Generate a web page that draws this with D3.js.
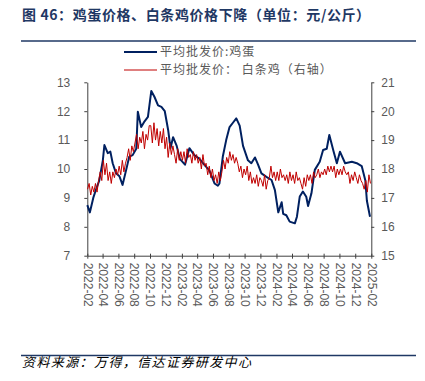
<!DOCTYPE html>
<html>
<head>
<meta charset="utf-8">
<script src="https://cdn.jsdelivr.net/npm/d3@7"></script>
<style>
  body { margin: 0; background: #fff; }
  svg { display: block; }
  .axis text { font-family: "Liberation Sans", Arial, sans-serif; font-size: 12px; fill: #595959; }
  .axis path, .axis line { stroke: #404040; }
</style>
</head>
<body>
<svg width="425" height="381"></svg>
<script>
// egg: average wholesale price, yuan/kg (left axis)
var eggDates = ["2022-02-01","2022-02-11","2022-02-24","2022-03-07","2022-03-19","2022-04-02","2022-04-08","2022-04-21","2022-05-01","2022-05-10",
  "2022-05-23","2022-06-05","2022-06-17","2022-07-01","2022-07-13","2022-07-26","2022-08-09","2022-08-15","2022-08-28","2022-09-10",
  "2022-09-23","2022-10-06","2022-10-18","2022-11-01","2022-11-14","2022-11-27","2022-12-10","2022-12-19","2022-12-29","2023-01-12",
  "2023-01-24","2023-02-13","2023-03-02","2023-03-21","2023-04-10","2023-04-29","2023-05-18","2023-06-07","2023-06-20","2023-06-26",
  "2023-07-09","2023-07-22","2023-08-04","2023-08-17","2023-08-30","2023-09-12","2023-09-25","2023-10-14","2023-10-27","2023-11-10",
  "2023-11-22","2023-12-05","2023-12-24","2024-01-13","2024-01-26","2024-02-08","2024-02-21","2024-02-27","2024-03-10","2024-03-23",
  "2024-04-12","2024-04-20","2024-05-01","2024-05-13","2024-05-26","2024-06-02","2024-06-15","2024-06-28","2024-07-17","2024-07-30",
  "2024-08-13","2024-08-23","2024-09-08","2024-09-21","2024-10-03","2024-10-23","2024-11-18","2024-12-07","2024-12-26","2025-01-09",
  "2025-01-15","2025-01-27"];
var eggValues = [8.75,8.5,9.0,9.3,9.6,10.3,10.83,10.55,10.6,10.2,
  9.85,9.75,9.45,9.97,10.43,10.48,10.7,11.98,11.45,11.65,
  11.8,12.7,12.5,12.2,12.15,12.0,11.35,10.72,11.1,10.8,
  10.35,10.15,10.72,10.48,10.35,10.14,9.95,9.5,9.42,9.5,
  10.43,11.0,11.45,11.6,11.75,11.5,10.8,10.3,10.2,10.4,
  10.15,9.85,9.73,9.62,9.27,8.5,8.85,8.45,8.4,8.18,
  8.12,8.35,9.05,9.22,9.04,8.72,9.16,9.97,10.25,10.66,
  10.7,11.18,10.62,10.2,10.6,10.2,10.25,10.2,10.1,9.6,
  8.9,8.35];

// white-strip chicken: average wholesale price (right axis), one reading every ~6 days
var chickenStart = "2022-02-02";
var chickenStepDays = 6.1;
var chickenValues = [
  17.3,17.5,17.1,17.4,17.2,  17.5,17.2,17.6,17.9,17.6,  18.3,17.8,18.2,17.6,17.9,
  17.5,17.9,17.7,18.0,17.8,  18.1,17.8,18.3,17.9,18.2,  18.4,18.7,18.3,18.8,18.6,
  18.9,19.2,18.7,19.1,18.9,  19.3,18.7,19.2,19.0,19.5,  19.5,18.9,19.6,19.0,19.4,
  18.8,19.3,18.9,19.4,18.7,  19.1,18.4,18.9,18.5,18.8,  18.5,18.2,18.7,18.3,18.6,
  18.3,18.6,18.2,18.7,18.4,  18.5,18.2,18.6,18.3,18.5,  18.2,18.4,18.0,18.5,18.1,
  18.2,17.8,18.1,17.7,18.0,  17.6,17.8,17.5,17.9,17.6,  17.9,18.3,18.0,18.4,18.2,
  18.6,18.3,18.5,18.2,18.4,  18.2,17.9,18.1,17.7,18.0,  17.8,18.1,17.6,17.9,17.5,
  17.7,17.5,17.8,17.4,17.7,  17.6,17.4,17.8,17.3,17.6,  17.7,18.1,17.7,17.9,17.6,
  17.9,17.6,18.0,17.7,17.8,  17.6,17.8,17.5,17.9,17.6,  17.8,17.5,17.9,17.6,17.7,
  17.5,17.3,17.7,17.4,17.8,  17.6,17.8,17.5,17.9,17.7,  17.8,18.0,17.7,17.9,17.8,
  18.0,17.8,18.1,17.9,18.1,  17.9,18.1,17.7,18.0,17.8,  18.0,17.8,18.1,17.9,17.8,
  17.9,17.5,17.8,17.6,17.9,  17.7,17.5,17.8,17.6,17.5,  17.3,17.6,17.2,17.8,17.5];

var xTickLabels = ["2022-02","2022-04","2022-06","2022-08","2022-10","2022-12","2023-02","2023-04","2023-06",
  "2023-08","2023-10","2023-12","2024-02","2024-04","2024-06","2024-08","2024-10","2024-12","2025-02"];
var leftTicks = [7, 8, 9, 10, 11, 12, 13];
var rightTicks = [15, 16, 17, 18, 19, 20, 21];
var legendNames = ["平均批发价:鸡蛋", "平均批发价： 白条鸡（右轴）"];

var svg = d3.select("svg"),
    margin = {top: 82.3, right: 53.7, bottom: 125.3, left: 87.3},
    width = 425 - margin.left - margin.right,
    height = 381 - margin.top - margin.bottom,
    g = svg.append("g").attr("transform", "translate(" + margin.left + "," + margin.top + ")");

var parseDate = d3.timeParse("%Y-%m-%d"),
    parseMonth = d3.timeParse("%Y-%m");

var egg = eggDates.map(function(d, i) { return {date: parseDate(d), value: eggValues[i]}; });
var c0 = parseDate(chickenStart);
var chicken = chickenValues.map(function(v, i) {
  return {date: new Date(c0.getTime() + i * chickenStepDays * 864e5), value: v};
});

var x = d3.scaleTime().domain([parseMonth("2022-02"), parseMonth("2025-02")]).range([0, width]),
    yL = d3.scaleLinear().domain([7, 13]).range([height, 0]),
    yR = d3.scaleLinear().domain([15, 21]).range([height, 0]);

var blue = "#002060", red = "#c00000", navy = "#1f3864";

// title + rules
svg.append("text")
    .attr("x", 22).attr("y", 20)
    .attr("fill", navy)
    .style("font-family", "'Noto Sans CJK SC', sans-serif")
    .style("font-size", "14px").style("font-weight", "bold")
    .style("letter-spacing", "0.6px")
    .text("图 46：鸡蛋价格、白条鸡价格下降（单位：元/公斤）");
svg.append("line").attr("x1", 21).attr("x2", 416).attr("y1", 41).attr("y2", 41)
    .attr("stroke", navy).attr("stroke-width", 1.5);
svg.append("line").attr("x1", 21).attr("x2", 416).attr("y1", 355.5).attr("y2", 355.5)
    .attr("stroke", navy).attr("stroke-width", 1.5);
svg.append("text")
    .attr("x", 22).attr("y", 367)
    .attr("fill", "#000")
    .style("font-family", "'Noto Sans CJK SC', sans-serif")
    .style("font-size", "13px").style("font-style", "italic")
    .style("letter-spacing", "1.4px")
    .text("资料来源：万得，信达证券研发中心");

// axes
var xAxis = g.append("g")
    .attr("class", "axis")
    .attr("transform", "translate(0," + height + ")")
    .call(d3.axisBottom(x).tickValues(xTickLabels.map(parseMonth)).tickSize(3).tickSizeOuter(0).tickFormat(d3.timeFormat("%Y-%m")));
xAxis.selectAll(".tick line").attr("y1", -2);
xAxis.selectAll("text")
    .attr("transform", "rotate(90)")
    .attr("x", 7).attr("y", 0).attr("dy", "0.35em")
    .style("text-anchor", "start");

g.append("g")
    .attr("class", "axis")
    .call(d3.axisLeft(yL).tickValues(leftTicks).tickFormat(d3.format("d")).tickSize(3).tickPadding(14).tickSizeOuter(0));

g.append("g")
    .attr("class", "axis")
    .attr("transform", "translate(" + width + ",0)")
    .call(d3.axisRight(yR).tickValues(rightTicks).tickFormat(d3.format("d")).tickSize(3).tickPadding(7).tickSizeOuter(0));

// lines
var eggLine = d3.line().x(function(d) { return x(d.date); }).y(function(d) { return yL(d.value); });
var chickenLine = d3.line().x(function(d) { return x(d.date); }).y(function(d) { return yR(d.value); });

g.append("path").datum(egg)
    .attr("fill", "none").attr("stroke", blue).attr("stroke-width", 2)
    .attr("stroke-linejoin", "round")
    .attr("d", eggLine);
g.append("path").datum(chicken)
    .attr("fill", "none").attr("stroke", red).attr("stroke-width", 1)
    .attr("d", chickenLine);

// legend
var legend = svg.append("g");
[blue, red].forEach(function(c, i) {
  var ly = 52 + i * 18;
  legend.append("line").attr("x1", 124).attr("x2", 157).attr("y1", ly).attr("y2", ly)
      .attr("stroke", c).attr("stroke-width", i == 0 ? 2 : 1);
  legend.append("text").attr("x", 160).attr("y", ly).attr("dy", "0.35em")
      .attr("fill", "#595959")
      .style("font-family", "'Noto Sans CJK SC', sans-serif")
      .style("font-size", "12px").style("letter-spacing", "1px")
      .text(legendNames[i]);
});
</script>
</body>
</html>
